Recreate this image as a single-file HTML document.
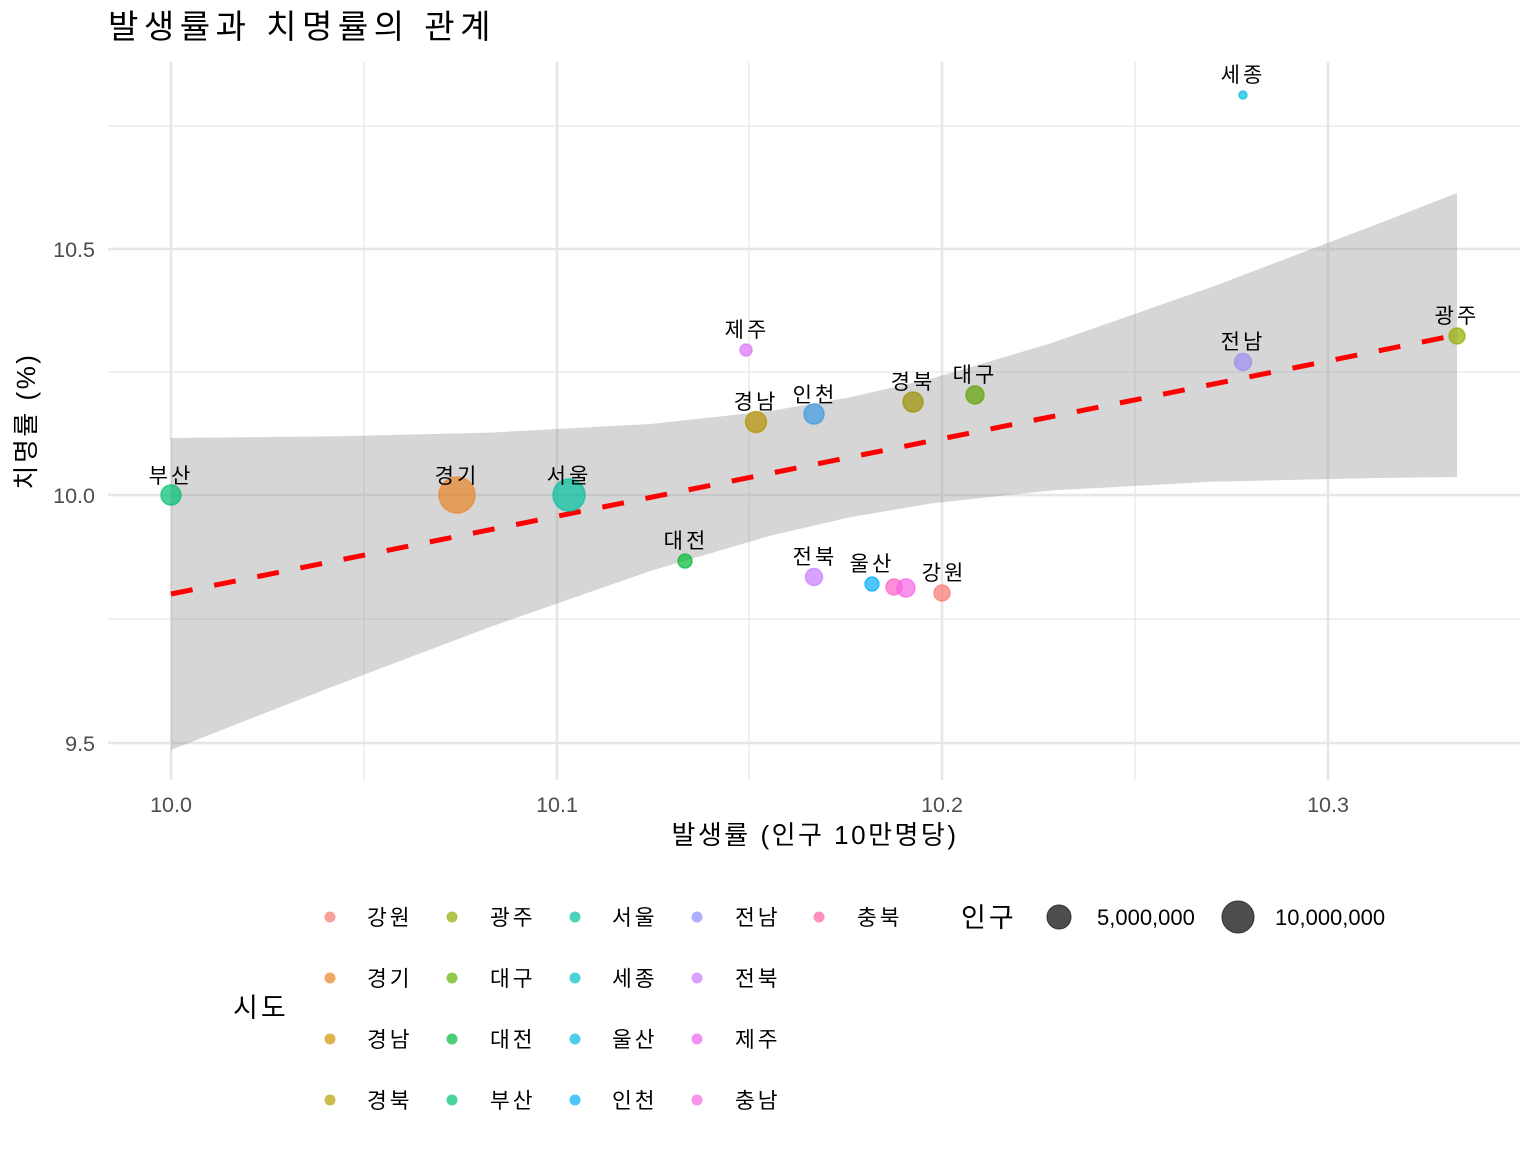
<!DOCTYPE html>
<html><head><meta charset="utf-8"><style>
html,body{margin:0;padding:0;background:#fff;}
svg{display:block;font-family:"Liberation Sans","Noto Sans CJK KR",sans-serif;}
</style></head><body>
<svg width="1536" height="1152" viewBox="0 0 1536 1152" xmlns="http://www.w3.org/2000/svg">
<rect width="1536" height="1152" fill="#fff"/>
<text x="108" y="38" font-size="33" letter-spacing="5.5" fill="#000">발생률과 치명률의 관계</text>
<!-- grid -->
<g stroke="#ebebeb" stroke-width="1.5">
<line x1="108" x2="1520" y1="126" y2="126"/><line x1="108" x2="1520" y1="372" y2="372"/><line x1="108" x2="1520" y1="619" y2="619"/>
<line x1="364" x2="364" y1="62" y2="780"/><line x1="749" x2="749" y1="62" y2="780"/><line x1="1135" x2="1135" y1="62" y2="780"/>
</g>
<g stroke="#e6e6e6" stroke-width="2.5">
<line x1="108" x2="1520" y1="249" y2="249"/><line x1="108" x2="1520" y1="495" y2="495"/><line x1="108" x2="1520" y1="743" y2="743"/>
<line x1="171" x2="171" y1="62" y2="780"/><line x1="557" x2="557" y1="62" y2="780"/><line x1="942" x2="942" y1="62" y2="780"/><line x1="1328" x2="1328" y1="62" y2="780"/>
</g>
<!-- band -->
<polygon fill="#999" fill-opacity="0.4" points="171,438 331,436.4 491,432.6 651,424 771,410.9 850,397.3 931,378.7 1051,343.3 1211,287.2 1371,226.5 1457,193 1457,477 1371,478.1 1211,481.8 1051,490.5 931,503.5 850,517.3 771,535.5 651,570.8 491,626.6 331,687.2 171,750"/>
<line x1="171" y1="594" x2="1457" y2="335" stroke="#ff0000" stroke-width="5" stroke-dasharray="22,22"/>
<!-- points -->
<g fill-opacity="0.7" stroke-opacity="0.7" stroke-width="1.5">
<circle cx="171" cy="495" r="10" fill="#00BF74" stroke="#00BF74"/>
<circle cx="457" cy="495" r="18" fill="#E88526" stroke="#E88526"/>
<circle cx="569" cy="495" r="16" fill="#00C19F" stroke="#00C19F"/>
<circle cx="685" cy="561" r="7" fill="#00BA38" stroke="#00BA38"/>
<circle cx="756" cy="422" r="10.5" fill="#B79200" stroke="#B79200"/>
<circle cx="746" cy="350" r="6" fill="#DB72FB" stroke="#DB72FB"/>
<circle cx="814" cy="414" r="10" fill="#3C9AE0" stroke="#3C9AE0"/>
<circle cx="814" cy="577" r="8.5" fill="#C77CFF" stroke="#C77CFF"/>
<circle cx="872" cy="584" r="7" fill="#00ADFA" stroke="#00ADFA"/>
<circle cx="894" cy="587" r="8" fill="#FF61C3" stroke="#FF61C3"/>
<circle cx="906" cy="588" r="9" fill="#F564E3" stroke="#F564E3"/>
<circle cx="942" cy="593" r="8" fill="#F8766D" stroke="#F8766D"/>
<circle cx="913" cy="402" r="10" fill="#9A9000" stroke="#9A9000"/>
<circle cx="975" cy="395" r="9" fill="#5EA300" stroke="#5EA300"/>
<circle cx="1243" cy="95" r="4" fill="#00BFE0" stroke="#00BFE0"/>
<circle cx="1243" cy="362" r="8.5" fill="#9E8CF0" stroke="#9E8CF0"/>
<circle cx="1457" cy="336" r="8" fill="#93AA00" stroke="#93AA00"/>
</g>
<g font-size="21" letter-spacing="3" text-anchor="middle" fill="#000">
<text x="171" y="483">부산</text><text x="457" y="483">경기</text><text x="569" y="483">서울</text>
<text x="686" y="548">대전</text><text x="756" y="409">경남</text><text x="747" y="337">제주</text>
<text x="815" y="402">인천</text><text x="815" y="564">전북</text><text x="872" y="571">울산</text>
<text x="944" y="580">강원</text><text x="913" y="389">경북</text><text x="975" y="382">대구</text>
<text x="1243" y="82">세종</text><text x="1243" y="349">전남</text><text x="1457" y="323">광주</text>
</g>
<!-- axes labels -->
<g font-size="21.5" fill="#4d4d4d" text-anchor="end">
<text x="95" y="257">10.5</text><text x="95" y="503">10.0</text><text x="95" y="751">9.5</text>
</g>
<g font-size="21.5" fill="#4d4d4d" text-anchor="middle">
<text x="171" y="812">10.0</text><text x="557" y="812">10.1</text><text x="942" y="812">10.2</text><text x="1328" y="812">10.3</text>
</g>
<text x="815" y="844" font-size="26" letter-spacing="2.5" text-anchor="middle" fill="#000">발생률 (인구 10만명당)</text>
<text transform="translate(35,421) rotate(-90)" font-size="26" letter-spacing="2.5" text-anchor="middle" fill="#000">치명률 (%)</text>
<!-- legend -->
<text x="233" y="1017" font-size="27" letter-spacing="3" fill="#000">시도</text>
<g fill-opacity="0.7">
<circle cx="330" cy="917" r="5.5" fill="#F8766D"/><circle cx="330" cy="978" r="5.5" fill="#E88526"/><circle cx="330" cy="1039" r="5.5" fill="#D39200"/><circle cx="330" cy="1100" r="5.5" fill="#B79F00"/>
<circle cx="452" cy="917" r="5.5" fill="#93AA00"/><circle cx="452" cy="978" r="5.5" fill="#5EB300"/><circle cx="452" cy="1039" r="5.5" fill="#00BA38"/><circle cx="452" cy="1100" r="5.5" fill="#00BF74"/>
<circle cx="575" cy="917" r="5.5" fill="#00C19F"/><circle cx="575" cy="978" r="5.5" fill="#00BFC4"/><circle cx="575" cy="1039" r="5.5" fill="#00B9E3"/><circle cx="575" cy="1100" r="5.5" fill="#00ADFA"/>
<circle cx="697" cy="917" r="5.5" fill="#8F8CFF"/><circle cx="697" cy="978" r="5.5" fill="#C77CFF"/><circle cx="697" cy="1039" r="5.5" fill="#EB63F0"/><circle cx="697" cy="1100" r="5.5" fill="#F564E3"/>
<circle cx="819" cy="917" r="5.5" fill="#FF61A0"/>
</g>
<g font-size="21.5" letter-spacing="3" fill="#000">
<text x="367" y="925">강원</text><text x="367" y="986">경기</text><text x="367" y="1047">경남</text><text x="367" y="1108">경북</text>
<text x="490" y="925">광주</text><text x="490" y="986">대구</text><text x="490" y="1047">대전</text><text x="490" y="1108">부산</text>
<text x="612" y="925">서울</text><text x="612" y="986">세종</text><text x="612" y="1047">울산</text><text x="612" y="1108">인천</text>
<text x="735" y="925">전남</text><text x="735" y="986">전북</text><text x="735" y="1047">제주</text><text x="735" y="1108">충남</text>
<text x="857" y="925">충북</text>
</g>
<text x="961" y="927" font-size="27" letter-spacing="3" fill="#000">인구</text>
<circle cx="1059" cy="917" r="12" fill="#4d4d4d" stroke="#333" stroke-width="1"/>
<text x="1097" y="925" font-size="22" fill="#000">5,000,000</text>
<circle cx="1238" cy="917" r="16" fill="#4d4d4d" stroke="#333" stroke-width="1"/>
<text x="1275" y="925" font-size="22" fill="#000">10,000,000</text>
</svg>
</body></html>
